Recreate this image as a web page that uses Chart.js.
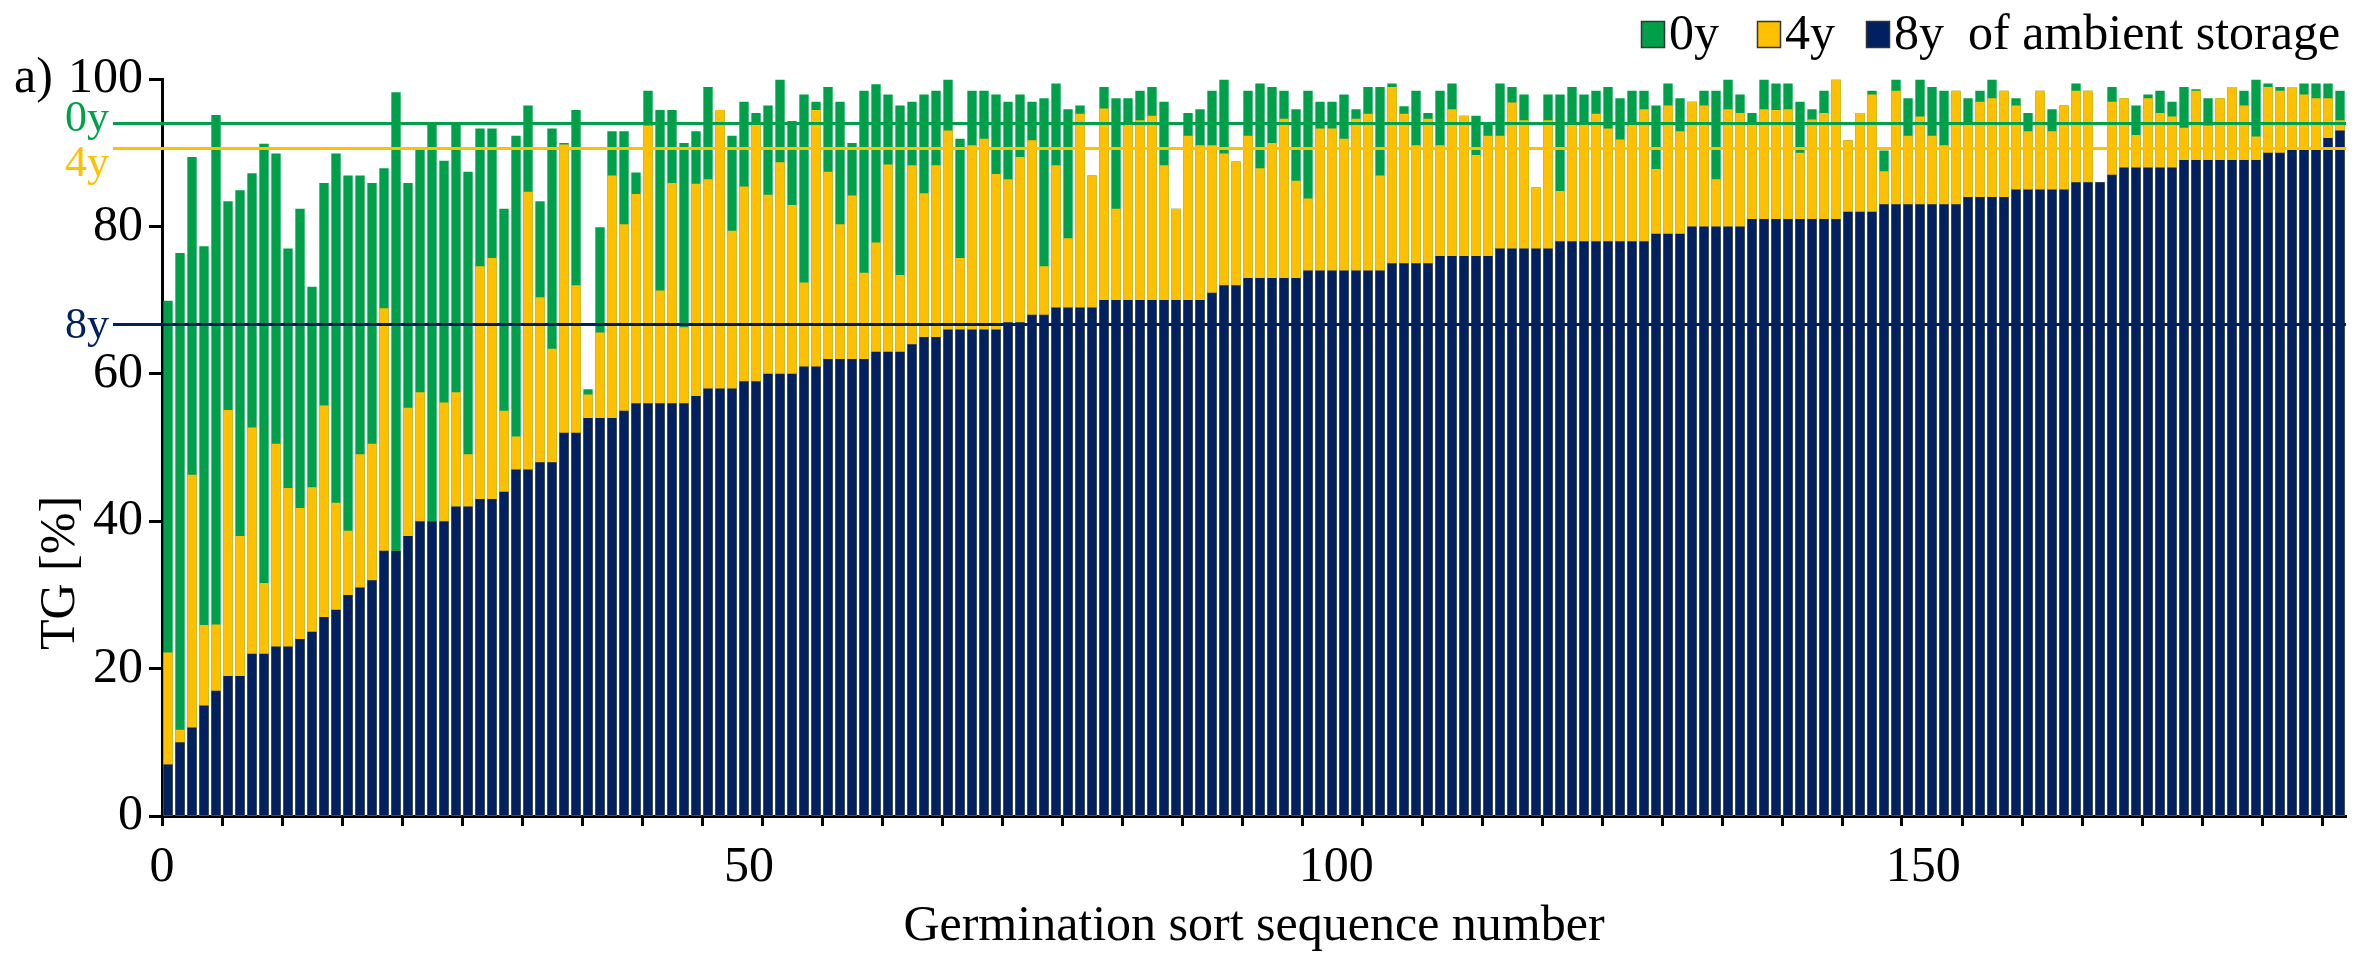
<!DOCTYPE html>
<html>
<head>
<meta charset="utf-8">
<title>TG after ambient storage</title>
<script src="https://cdn.jsdelivr.net/npm/chart.js@4.4.0/dist/chart.umd.min.js"></script>
<style>
  html, body { margin: 0; padding: 0; background: #fff; }
  #wrap { width: 2369px; height: 958px; }
</style>
</head>
<body>
<div id="wrap"><canvas id="tgChart" width="2369" height="958"></canvas></div>
<script>
// TG [%] per accession, sorted by the 8y value; three storage times overlaid
const seriesNames = ['0y', '4y', '8y'];

const germ0y = [
  69.9, 76.4, 89.4, 77.3, 95.1, 83.4, 84.9, 87.2, 91.2, 89.9,
  77.0, 82.4, 71.8, 85.9, 89.9, 86.9, 86.9, 85.9, 87.9, 98.2,
  85.9, 90.4, 93.9, 88.9, 93.9, 87.4, 93.3, 93.3, 82.4, 92.3,
  96.4, 83.4, 93.3, 91.3, 95.8, 57.9, 79.9, 92.9, 92.9, 87.3,
  98.4, 95.8, 95.8, 91.3, 92.9, 98.9, 95.8, 92.3, 96.9, 95.4,
  96.4, 99.9, 94.3, 97.9, 96.9, 98.9, 96.9, 91.3, 98.4, 99.3,
  97.9, 96.4, 96.9, 97.9, 98.4, 99.9, 91.9, 98.4, 98.4, 97.9,
  96.9, 97.9, 96.9, 97.4, 99.4, 95.9, 96.4, 86.9, 98.9, 97.4,
  97.4, 98.4, 98.9, 96.9, 82.4, 95.4, 95.9, 98.4, 99.9, 88.8,
  98.4, 99.4, 98.9, 98.4, 95.9, 98.4, 96.9, 96.9, 97.9, 95.9,
  98.9, 98.9, 99.4, 96.3, 98.4, 95.4, 98.4, 99.4, 95.0, 95.0,
  94.0, 99.4, 98.9, 97.9, 85.3, 97.9, 97.9, 98.9, 97.9, 98.4,
  98.9, 97.4, 98.4, 98.4, 96.4, 99.4, 97.4, 96.9, 98.4, 98.4,
  99.9, 97.9, 95.4, 99.9, 99.4, 99.4, 96.9, 95.9, 98.4, 99.9,
  91.7, 95.4, 98.4, 90.3, 99.9, 97.4, 99.9, 98.9, 98.4, 98.4,
  97.4, 98.4, 99.9, 98.4, 97.4, 95.4, 98.4, 95.9, 96.4, 99.4,
  98.4, 86.0, 98.9, 97.4, 96.4, 97.9, 98.4, 96.9, 98.9, 98.6,
  97.4, 97.4, 98.9, 98.4, 99.9, 99.4, 98.9, 98.9, 99.4, 99.4,
  99.4, 98.4
];

const germ4y = [
  22.2, 11.7, 46.3, 25.9, 26.0, 55.1, 38.0, 52.7, 31.6, 50.5,
  44.5, 41.8, 44.6, 55.7, 42.5, 38.7, 49.1, 50.5, 68.9, 36.0,
  55.4, 57.5, 40.0, 56.1, 57.5, 49.1, 74.6, 75.7, 55.0, 51.5,
  84.7, 70.4, 63.4, 91.1, 72.0, 57.2, 65.6, 86.9, 80.3, 84.4,
  93.7, 71.3, 85.9, 66.3, 85.8, 86.4, 95.8, 79.4, 85.4, 94.0,
  84.3, 88.7, 82.9, 72.4, 95.8, 87.4, 80.3, 84.2, 73.7, 77.8,
  88.4, 73.4, 88.3, 84.5, 88.3, 93.0, 75.7, 91.0, 91.9, 87.1,
  86.4, 89.4, 91.7, 74.6, 88.3, 78.4, 95.3, 86.9, 96.0, 82.4,
  93.9, 94.4, 95.0, 88.3, 82.4, 92.3, 91.0, 91.0, 89.9, 88.8,
  92.3, 87.9, 91.3, 94.6, 86.2, 83.8, 93.3, 93.3, 91.9, 94.6,
  95.3, 86.9, 98.9, 95.3, 91.0, 94.6, 91.0, 95.9, 95.0, 89.7,
  92.3, 92.3, 96.8, 94.4, 85.3, 94.4, 84.8, 93.8, 93.9, 95.3,
  93.3, 91.8, 94.0, 95.9, 87.8, 96.4, 92.9, 96.9, 96.4, 86.4,
  95.9, 95.4, 93.8, 95.9, 95.8, 95.9, 90.0, 94.5, 95.4, 99.9,
  91.7, 95.4, 97.9, 87.5, 98.4, 92.3, 94.9, 92.3, 91.0, 98.4,
  94.0, 96.9, 97.4, 98.4, 96.4, 92.9, 98.4, 92.9, 96.4, 98.4,
  98.4, 86.0, 96.9, 97.4, 92.4, 97.4, 95.4, 94.9, 93.4, 98.4,
  93.7, 97.4, 98.9, 96.4, 92.2, 98.9, 98.4, 98.9, 97.9, 97.4,
  97.4, 94.4
];

const germ8y = [
  7, 10, 12, 15, 17, 19, 19, 22, 22, 23,
  23, 24, 25, 27, 28, 30, 31, 32, 36, 36,
  38, 40, 40, 40, 42, 42, 43, 43, 44, 47,
  47, 48, 48, 52, 52, 54, 54, 54, 55, 56,
  56, 56, 56, 56, 57, 58, 58, 58, 59, 59,
  60, 60, 60, 61, 61, 62, 62, 62, 62, 63,
  63, 63, 64, 65, 65, 66, 66, 66, 66, 66,
  67, 67, 68, 68, 69, 69, 69, 69, 70, 70,
  70, 70, 70, 70, 70, 70, 70, 71, 72, 72,
  73, 73, 73, 73, 73, 74, 74, 74, 74, 74,
  74, 74, 75, 75, 75, 75, 76, 76, 76, 76,
  76, 77, 77, 77, 77, 77, 78, 78, 78, 78,
  78, 78, 78, 78, 79, 79, 79, 80, 80, 80,
  80, 80, 81, 81, 81, 81, 81, 81, 81, 81,
  82, 82, 82, 83, 83, 83, 83, 83, 83, 83,
  84, 84, 84, 84, 85, 85, 85, 85, 85, 86,
  86, 86, 87, 88, 88, 88, 88, 88, 89, 89,
  89, 89, 89, 89, 89, 90, 90, 90.5, 90.5, 90.5,
  92, 93
];

// mean TG for each storage time (horizontal reference lines)
const meanLevels = [94.0, 90.7, 66.7];
const xTickLabels = [0, 50, 100, 150];

const FONT = 'Liberation Serif';
const GREEN = '#00A04B';
const YELLOW = '#FFC000';
const NAVY = '#002060';
const colors = [GREEN, YELLOW, NAVY];

// bar i sits in the slot [i, i+1] of the bar axis
function toPoints(values) {
  return values.map((v, i) => ({ x: i + 0.5, y: v }));
}

// vertical nudges for the 0y/4y/8y labels next to the mean lines
const labelShift = [7, 27, 13];

const extras = {
  id: 'extras',
  afterDatasetsDraw(chart) {
    const { ctx, chartArea, scales: { y } } = chart;
    ctx.save();
    ctx.lineWidth = 3;
    ctx.font = `44px "${FONT}"`;
    ctx.textAlign = 'right';
    ctx.textBaseline = 'alphabetic';
    meanLevels.forEach((level, k) => {
      const py = Math.round(y.getPixelForValue(level)) + 0.5;
      ctx.strokeStyle = colors[k];
      ctx.beginPath();
      ctx.moveTo(chartArea.left - 49, py);
      ctx.lineTo(chartArea.right, py);
      ctx.stroke();
      ctx.fillStyle = colors[k];
      ctx.fillText(seriesNames[k], chartArea.left - 53, py + labelShift[k]);
    });
    ctx.restore();
  },
  afterDraw(chart) {
    const { ctx } = chart;
    ctx.save();
    ctx.fillStyle = '#000';
    ctx.font = `50px "${FONT}"`;
    ctx.textBaseline = 'alphabetic';

    // panel letter
    ctx.textAlign = 'left';
    ctx.fillText('a)', 14, 92);

    // y axis title
    ctx.save();
    ctx.translate(61, 573);
    ctx.rotate(-Math.PI / 2);
    ctx.textAlign = 'center';
    ctx.textBaseline = 'middle';
    ctx.fillText('TG [%]', 0, 0);
    ctx.restore();

    // legend
    const boxX = [1641, 1757, 1866];
    boxX.forEach((bx, k) => {
      ctx.fillStyle = colors[k];
      ctx.fillRect(bx, 21, 24, 27);
      ctx.strokeStyle = '#333';
      ctx.lineWidth = 1.5;
      ctx.strokeRect(bx + 0.5, 21.5, 23, 26);
      ctx.fillStyle = '#000';
      ctx.fillText(seriesNames[k], bx + 28, 49);
    });
    ctx.fillText('of ambient storage', 1968, 49);
    ctx.restore();
  }
};

const axisFont = { family: FONT, size: 50 };

new Chart(document.getElementById('tgChart'), {
  type: 'bar',
  data: {
    datasets: [
      { label: '0y', data: toPoints(germ0y), backgroundColor: GREEN, xAxisID: 'xs', order: 3 },
      { label: '4y', data: toPoints(germ4y), backgroundColor: YELLOW, xAxisID: 'xs', order: 2 },
      { label: '8y', data: toPoints(germ8y), backgroundColor: NAVY, xAxisID: 'xs', order: 1 }
    ]
  },
  options: {
    responsive: false,
    animation: false,
    devicePixelRatio: 1,
    layout: { padding: { top: 79, right: 23, left: 0, bottom: 0 } },
    datasets: {
      bar: { grouped: false, barPercentage: 0.78, categoryPercentage: 1 }
    },
    plugins: {
      legend: { display: false },
      tooltip: { enabled: false }
    },
    scales: {
      // bar slots, one per accession; minor ticks every 5 slots
      xs: {
        type: 'linear',
        axis: 'x',
        position: 'bottom',
        weight: 0,
        min: 0,
        max: germ8y.length,
        offset: false,
        ticks: { display: false, stepSize: 5, includeBounds: false, autoSkip: false },
        grid: {
          offset: false,
          drawOnChartArea: false,
          drawTicks: true,
          tickLength: 10,
          tickWidth: 3,
          tickColor: '#000'
        },
        border: { display: false },
        afterFit(scale) { scale.height = 0; }
      },
      // labelled sequence-number axis
      x: {
        type: 'linear',
        position: 'bottom',
        weight: 1,
        min: 0,
        max: 186,
        offset: false,
        ticks: {
          stepSize: 50,
          includeBounds: false,
          autoSkip: false,
          maxRotation: 0,
          padding: 22,
          color: '#000',
          font: axisFont,
          callback: v => (xTickLabels.includes(v) ? String(v) : '')
        },
        grid: { offset: false, display: true, drawOnChartArea: false, drawTicks: false },
        border: { display: true, color: '#000', width: 3 },
        title: {
          display: true,
          text: 'Germination sort sequence number',
          color: '#000',
          font: axisFont,
          padding: { top: 0, bottom: 1 }
        },
        afterFit(scale) { scale.height = 142; }
      },
      y: {
        min: 0,
        max: 100,
        ticks: {
          stepSize: 20,
          padding: 6,
          color: '#000',
          font: axisFont
        },
        grid: {
          drawOnChartArea: false,
          drawTicks: true,
          tickLength: 13,
          tickWidth: 3,
          tickColor: '#000'
        },
        border: { display: true, color: '#000', width: 3 },
        afterFit(scale) { scale.width = 162; }
      }
    }
  },
  plugins: [extras]
});
</script>
</body>
</html>
